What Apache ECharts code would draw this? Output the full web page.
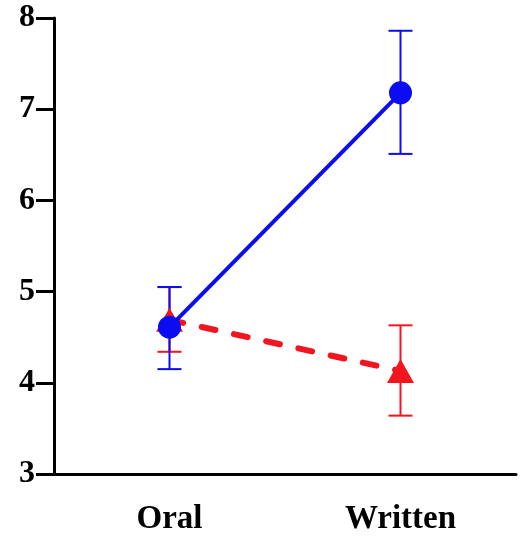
<!DOCTYPE html>
<html>
<head>
<meta charset="utf-8">
<script src="https://cdn.jsdelivr.net/npm/echarts@6/dist/echarts.min.js"></script>
<style>
  html, body { margin: 0; padding: 0; background: #fff; }
  #chart { width: 520px; height: 542px; }
</style>
</head>
<body>
<div id="chart"></div>
<script>
// Categories and tick labels
const categories = ['Oral', 'Written'];
const yTicks = [3, 4, 5, 6, 7, 8];

// Blue series (circles, solid line): means and error-bar limits
const blueMean = [4.61, 7.18];
const blueLow = [4.15, 6.51];
const blueHigh = [5.05, 7.86];

// Red series (triangles, dashed line): means and error-bar limits
const redMean = [4.69, 4.13];
const redLow = [4.34, 3.64];
const redHigh = [5.05, 4.63];

const BLUE = '#0c0cf2';
const RED = '#f2141e';

function errorData(low, high) {
  return categories.map((c, i) => [i, low[i], high[i]]);
}

function errorSeries(low, high, color) {
  return {
    type: 'custom',
    data: errorData(low, high),
    renderItem: function (params, api) {
      const x = api.value(0);
      const lo = api.coord([x, api.value(1)]);
      const hi = api.coord([x, api.value(2)]);
      const half = 12;
      const style = { stroke: color, lineWidth: 2 };
      return {
        type: 'group',
        children: [
          { type: 'line', shape: { x1: lo[0], y1: lo[1], x2: hi[0], y2: hi[1] }, style: style },
          { type: 'line', shape: { x1: lo[0] - half, y1: lo[1], x2: lo[0] + half, y2: lo[1] }, style: style },
          { type: 'line', shape: { x1: hi[0] - half, y1: hi[1], x2: hi[0] + half, y2: hi[1] }, style: style }
        ]
      };
    },
    z: 2
  };
}

const chart = echarts.init(document.getElementById('chart'), null, { renderer: 'canvas' });

chart.setOption({
  animation: false,
  backgroundColor: '#ffffff',
  grid: { left: 54, right: 4, top: 18, bottom: 68, containLabel: false },
  xAxis: {
    type: 'category',
    data: categories,
    boundaryGap: true,
    axisLine: { lineStyle: { color: '#000', width: 3 } },
    axisTick: { alignWithLabel: true, length: 18, lineStyle: { color: '#000', width: 3 } },
    axisLabel: {
      margin: 29,
      color: '#000',
      fontFamily: 'Liberation Serif',
      fontWeight: 'bold',
      fontSize: 33
    },
    splitLine: { show: false }
  },
  yAxis: {
    type: 'value',
    min: yTicks[0],
    max: yTicks[yTicks.length - 1],
    interval: 1,
    axisLine: { show: true, lineStyle: { color: '#000', width: 3 } },
    axisTick: { show: true, length: 18, lineStyle: { color: '#000', width: 3 } },
    axisLabel: {
      margin: 19,
      color: '#000',
      fontFamily: 'Liberation Serif',
      fontWeight: 'bold',
      fontSize: 32
    },
    splitLine: { show: false }
  },
  series: [
    errorSeries(redLow, redHigh, RED),
    {
      type: 'line',
      data: redMean,
      symbol: 'triangle',
      symbolSize: [27, 24],
      itemStyle: { color: RED },
      lineStyle: { color: RED, width: 6, type: [14, 19], cap: 'round' },
      z: 3
    },
    errorSeries(blueLow, blueHigh, BLUE),
    {
      type: 'line',
      data: blueMean,
      symbol: 'circle',
      symbolSize: 23,
      itemStyle: { color: BLUE },
      lineStyle: { color: BLUE, width: 4 },
      z: 5
    }
  ]
});
</script>
</body>
</html>
